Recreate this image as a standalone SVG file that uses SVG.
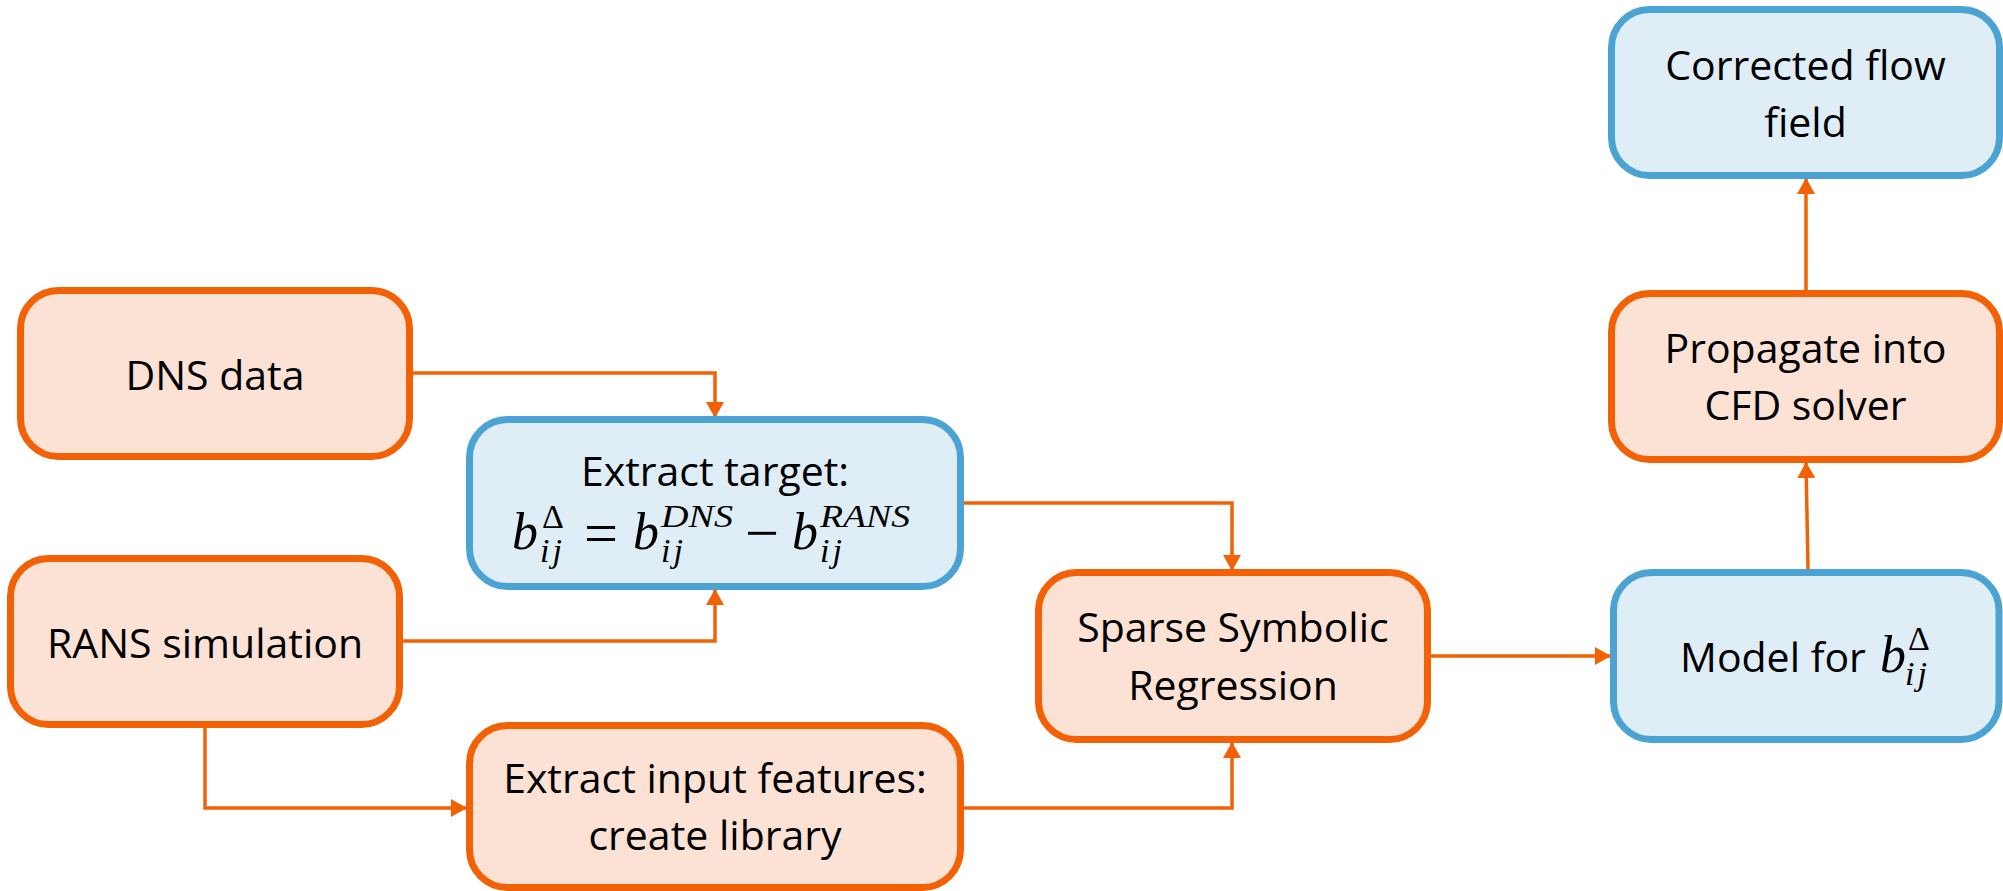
<svg xmlns="http://www.w3.org/2000/svg" width="2003" height="891" viewBox="0 0 2003 891">
<defs>
<style>
.o{fill:#FBE2D5;stroke:#F26105;stroke-width:7}
.b{fill:#DEEDF6;stroke:#4BA3D3;stroke-width:7}
.t{font-family:"Open Sans","Noto Sans",sans-serif;font-size:41px;fill:#000;text-anchor:middle}
.m{font-family:"Liberation Serif","DejaVu Serif",serif;font-style:italic;fill:#000}
.mn{font-family:"Liberation Serif","DejaVu Serif",serif;fill:#000}
.c{fill:none;stroke:#F26105;stroke-width:3.5;marker-end:url(#ah)}
</style>
<marker id="ah" markerUnits="userSpaceOnUse" markerWidth="18" markerHeight="18" refX="16" refY="9" orient="auto">
<path d="M0,0 L16,9 L0,18 z" fill="#F26105"/>
</marker>
</defs>
<g id="connectors">
<path class="c" d="M413 373 H715 V418"/>
<path class="c" d="M403 641 H715 V589"/>
<path class="c" d="M205 728 V808 H467"/>
<path class="c" d="M964 503 H1232 V571"/>
<path class="c" d="M964 808 H1232 V742"/>
<path class="c" d="M1431 656 H1611"/>
<path class="c" d="M1808 569 L1806 462"/>
<path class="c" d="M1806 290 V178"/>
</g>
<g id="dns">
<rect class="o" x="20.5" y="290.5" width="389" height="166" rx="38"/>
<text class="t" x="215" y="390">DNS data</text>
</g>
<g id="rans">
<rect class="o" x="10.5" y="558.5" width="389" height="166" rx="38"/>
<text class="t" x="205" y="658">RANS simulation</text>
</g>
<g id="extract-target">
<rect class="b" x="469.5" y="419.5" width="491" height="167" rx="38"/>
<text class="t" x="715" y="486">Extract target:</text>
<text class="m" font-size="52" x="512" y="549">b</text>
<text class="mn" font-size="34" x="542" y="528">Δ</text>
<text class="m" font-size="34" x="540" y="562" letter-spacing="3">ij</text>
<text class="mn" font-size="60" x="584" y="553" textLength="34" lengthAdjust="spacingAndGlyphs">=</text>
<text class="m" font-size="52" x="633" y="549">b</text>
<text class="m" font-size="32" x="661" y="527" textLength="72" lengthAdjust="spacingAndGlyphs">DNS</text>
<text class="m" font-size="34" x="661" y="562" letter-spacing="3">ij</text>
<text class="mn" font-size="60" x="745" y="553" textLength="34" lengthAdjust="spacingAndGlyphs">−</text>
<text class="m" font-size="52" x="792" y="549">b</text>
<text class="m" font-size="32" x="820" y="527" textLength="90" lengthAdjust="spacingAndGlyphs">RANS</text>
<text class="m" font-size="34" x="820" y="562" letter-spacing="3">ij</text>
</g>
<g id="extract-input">
<rect class="o" x="469.5" y="725.5" width="491" height="162" rx="38"/>
<text class="t" x="715" y="793">Extract input features:</text>
<text class="t" x="715" y="850">create library</text>
</g>
<g id="ssr">
<rect class="o" x="1038.5" y="572.5" width="389" height="167" rx="38"/>
<text class="t" x="1233" y="642">Sparse Symbolic</text>
<text class="t" x="1233" y="700">Regression</text>
</g>
<g id="model">
<rect class="b" x="1613.5" y="572.5" width="385.5" height="167" rx="38"/>
<text class="t" x="1680" y="672" style="text-anchor:start">Model for</text>
<text class="m" font-size="52" x="1880" y="672">b</text>
<text class="mn" font-size="34" x="1908" y="650">Δ</text>
<text class="m" font-size="34" x="1905" y="685" letter-spacing="3">ij</text>
</g>
<g id="propagate">
<rect class="o" x="1611.5" y="293.5" width="388" height="166" rx="38"/>
<text class="t" x="1805.5" y="363">Propagate into</text>
<text class="t" x="1805.5" y="420">CFD solver</text>
</g>
<g id="corrected">
<rect class="b" x="1611.5" y="9.5" width="388" height="166" rx="38"/>
<text class="t" x="1805.5" y="80">Corrected flow</text>
<text class="t" x="1805.5" y="137">field</text>
</g>
</svg>
